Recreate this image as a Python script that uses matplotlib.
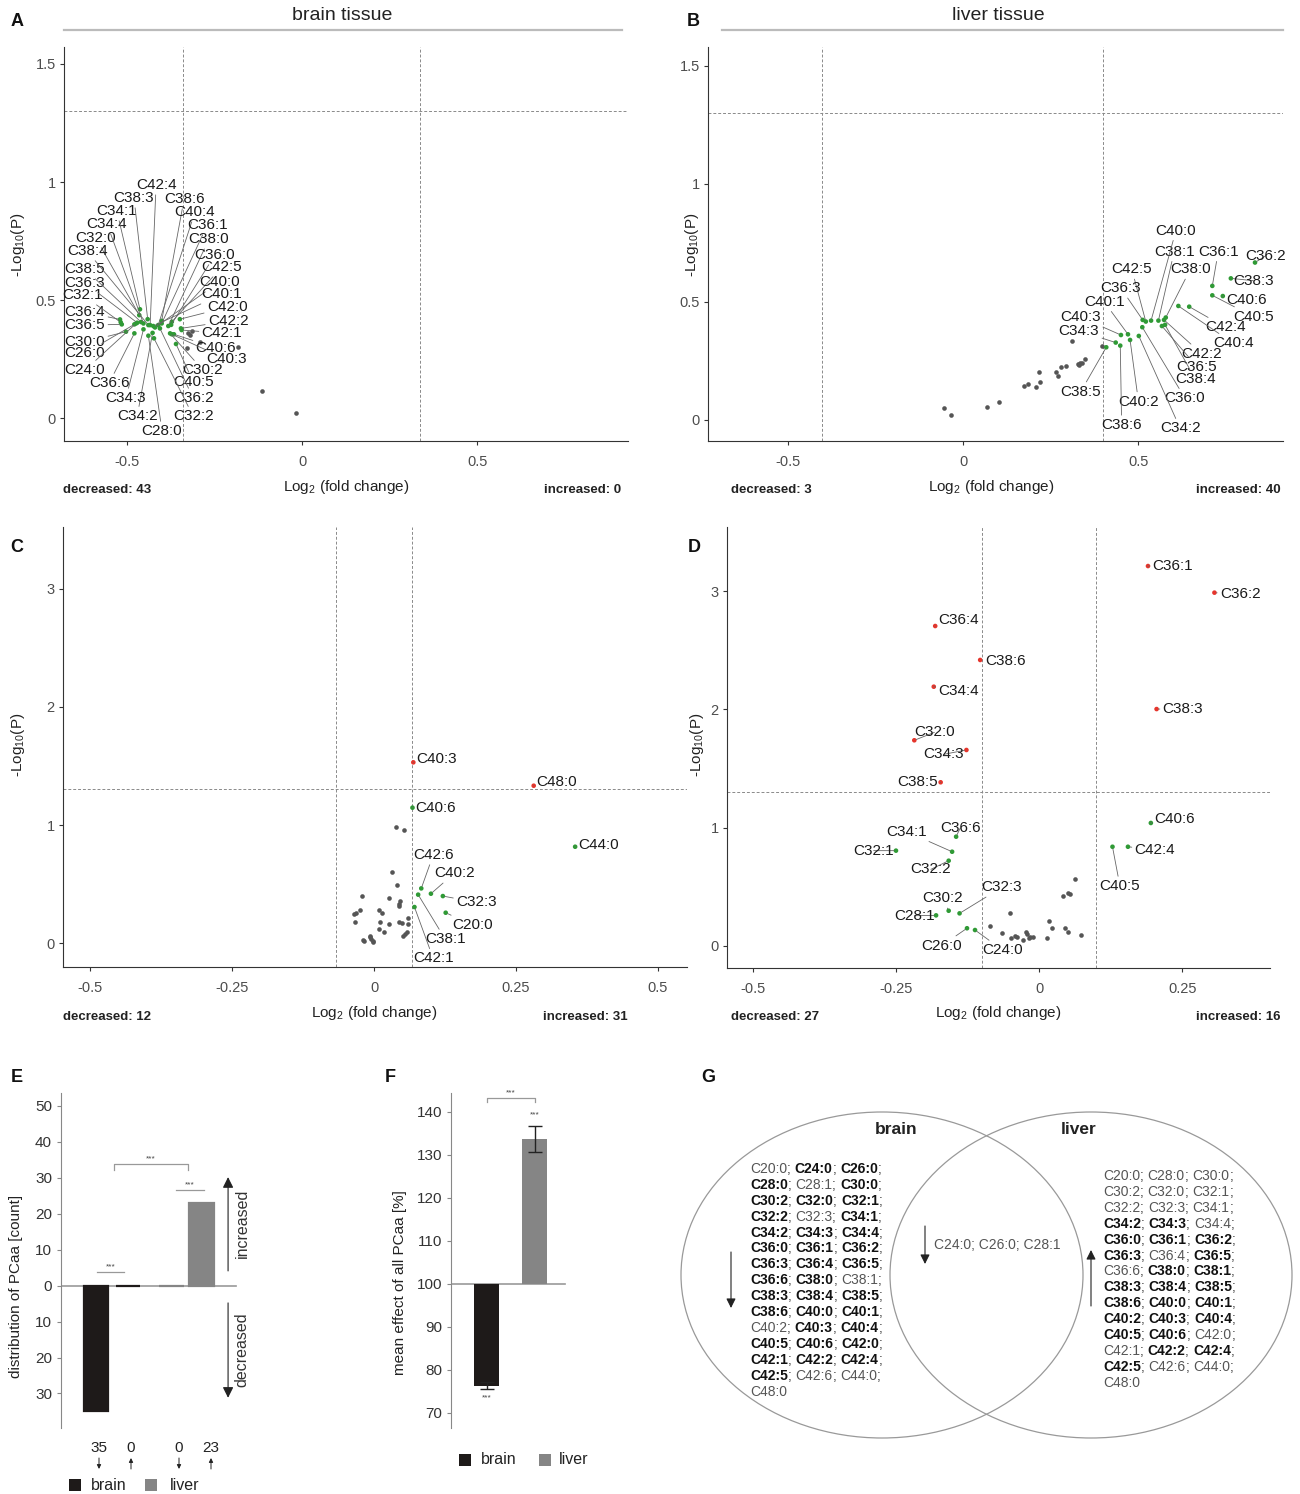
import matplotlib
matplotlib.use('Agg')
import matplotlib.pyplot as plt
from matplotlib.patches import Ellipse, Rectangle, FancyArrowPatch
from matplotlib.font_manager import FontProperties
from matplotlib.lines import Line2D

plt.rcParams['font.family'] = ['Liberation Sans', 'DejaVu Sans']
plt.rcParams['mathtext.fontset'] = 'custom'
plt.rcParams['mathtext.rm'] = 'Liberation Sans'
plt.rcParams['mathtext.it'] = 'Liberation Sans:italic'
plt.rcParams['mathtext.bf'] = 'Liberation Sans:bold'
plt.rcParams['axes.unicode_minus'] = False

# ------------------------------------------------------------------ data
# Panel A: brain tissue (significant = green, labelled)
a_names = ['C36:4', 'C36:5', 'C32:1', 'C30:0', 'C36:6', 'C26:0', 'C24:0', 'C36:3', 'C38:5',
           'C32:0', 'C34:4', 'C34:1', 'C38:3', 'C42:4', 'C38:6', 'C40:4', 'C36:1', 'C38:0',
           'C36:0', 'C42:5', 'C40:0', 'C40:1', 'C42:0', 'C42:2', 'C42:1', 'C40:6', 'C40:3',
           'C30:2', 'C40:5', 'C36:2', 'C32:2', 'C28:0', 'C34:2', 'C34:3', 'C38:4']
a_fc = [-0.520, -0.515, -0.518, -0.503, -0.479, -0.479, -0.474, -0.471, -0.460,
        -0.465, -0.453, -0.463, -0.441, -0.434, -0.401, -0.411, -0.401, -0.382,
        -0.374, -0.372, -0.420, -0.425, -0.349, -0.346, -0.344, -0.366, -0.372,
        -0.377, -0.360, -0.406, -0.423, -0.439, -0.427, -0.453, -0.439]
a_lp = [0.418, 0.397, 0.406, 0.366, 0.359, 0.397, 0.401, 0.404, 0.407,
        0.436, 0.401, 0.461, 0.419, 0.394, 0.412, 0.394, 0.401, 0.390,
        0.395, 0.408, 0.384, 0.390, 0.419, 0.380, 0.373, 0.355, 0.355,
        0.359, 0.314, 0.380, 0.338, 0.349, 0.361, 0.376, 0.394]
a_ns_fc = [-0.326, -0.320, -0.314, -0.291, -0.183, -0.329, -0.114, -0.017]
a_ns_lp = [0.360, 0.352, 0.369, 0.322, 0.300, 0.297, 0.114, 0.020]
a_counts = (43, 0)

# Panel B: liver tissue
b_names = ['C36:2', 'C38:3', 'C36:1', 'C40:5', 'C40:6', 'C42:4', 'C40:4', 'C38:1', 'C38:0',
           'C42:2', 'C36:5', 'C38:4', 'C40:0', 'C42:5', 'C36:3', 'C36:0', 'C34:2', 'C40:1',
           'C40:3', 'C40:2', 'C34:3', 'C38:6', 'C38:5']
b_fc = [0.834, 0.765, 0.712, 0.712, 0.742, 0.646, 0.615, 0.558, 0.579,
        0.574, 0.568, 0.577, 0.537, 0.522, 0.513, 0.512, 0.502, 0.471,
        0.451, 0.477, 0.436, 0.449, 0.409]
b_lp = [0.667, 0.600, 0.568, 0.528, 0.525, 0.480, 0.483, 0.421, 0.434,
        0.424, 0.398, 0.403, 0.421, 0.417, 0.424, 0.393, 0.356, 0.363,
        0.360, 0.339, 0.328, 0.315, 0.308]
b_ns_fc = [-0.056, -0.035, 0.069, 0.102, 0.174, 0.185, 0.209, 0.220, 0.218, 0.265,
           0.271, 0.280, 0.294, 0.311, 0.329, 0.334, 0.339, 0.347, 0.398, 0.332]
b_ns_lp = [0.050, 0.023, 0.054, 0.076, 0.144, 0.154, 0.138, 0.161, 0.205, 0.205,
           0.186, 0.223, 0.230, 0.333, 0.236, 0.243, 0.240, 0.258, 0.315, 0.233]
b_counts = (3, 40)

# Panel C
c_names = ['C40:3', 'C48:0', 'C40:6', 'C44:0', 'C42:6', 'C40:2', 'C38:1', 'C32:3', 'C20:0', 'C42:1']
c_fc = [0.069, 0.281, 0.0675, 0.354, 0.083, 0.100, 0.0775, 0.121, 0.126, 0.071]
c_lp = [1.531, 1.333, 1.147, 0.816, 0.463, 0.418, 0.410, 0.398, 0.257, 0.305]
c_cls = ['red', 'red', 'green', 'green', 'green', 'green', 'green', 'green', 'green', 'green']
c_ns_fc = [0.038, 0.053, 0.031, 0.040, -0.022, 0.027, 0.045, 0.044, 0.043, -0.036, -0.025,
           0.0093, 0.0135, -0.033, 0.0106, 0.026, 0.043, 0.049, 0.060, 0.059, 0.0093, 0.018,
           -0.007, -0.0053, -0.0023, -0.017, 0.050, 0.055, 0.058, -0.0012, -0.008, -0.019, -0.032]
c_ns_lp = [0.980, 0.958, 0.599, 0.489, 0.401, 0.381, 0.356, 0.333, 0.314, 0.249, 0.277,
           0.277, 0.252, 0.178, 0.181, 0.164, 0.181, 0.172, 0.209, 0.164, 0.116, 0.096,
           0.051, 0.031, 0.008, 0.014, 0.057, 0.079, 0.091, 0.017, 0.059, 0.025, 0.252]
c_counts = (12, 31)

# Panel D
d_names = ['C36:1', 'C36:2', 'C36:4', 'C38:6', 'C34:4', 'C38:3', 'C32:0', 'C34:3', 'C38:5',
           'C34:1', 'C36:6', 'C32:1', 'C32:2', 'C30:2', 'C32:3', 'C28:1', 'C26:0', 'C24:0',
           'C40:5', 'C42:4', 'C40:6']
d_fc = [0.190, 0.306, -0.1815, -0.103, -0.184, 0.205, -0.218, -0.127, -0.172,
        -0.152, -0.145, -0.250, -0.158, -0.158, -0.139, -0.180, -0.126, -0.112,
        0.128, 0.155, 0.195]
d_lp = [3.212, 2.987, 2.705, 2.418, 2.192, 2.003, 1.739, 1.657, 1.384,
        0.797, 0.924, 0.806, 0.721, 0.298, 0.276, 0.259, 0.150, 0.135,
        0.839, 0.839, 1.040]
d_cls = ['red'] * 9 + ['green'] * 12
d_ns_fc = [-0.0867, -0.065, -0.0506, -0.0494, -0.0419, -0.039, -0.0285, -0.0227, -0.0204,
           -0.0186, -0.0157, -0.0116, 0.0145, 0.0163, 0.0227, 0.0413, 0.050, 0.054, 0.0628,
           0.0454, 0.050, 0.0738]
d_ns_lp = [0.172, 0.113, 0.276, 0.070, 0.085, 0.079, 0.051, 0.121, 0.101, 0.065, 0.073,
           0.079, 0.065, 0.214, 0.150, 0.425, 0.451, 0.440, 0.569, 0.150, 0.116, 0.096]
d_counts = (27, 16)

# Panel E: distribution of PCaa counts
e_tissue = ['brain', 'brain', 'liver', 'liver']
e_direction = ['down', 'up', 'down', 'up']
e_counts = [35, 0, 0, 23]

# Panel F: mean effect of all PCaa [%]
f_tissue = ['brain', 'liver']
f_mean = [76.3, 133.7]
f_err = [0.8, 3.1]

# Panel G: Venn lists
venn_brain = ['C20:0', 'C24:0', 'C26:0', 'C28:0', 'C28:1', 'C30:0', 'C30:2', 'C32:0', 'C32:1',
              'C32:2', 'C32:3', 'C34:1', 'C34:2', 'C34:3', 'C34:4', 'C36:0', 'C36:1', 'C36:2',
              'C36:3', 'C36:4', 'C36:5', 'C36:6', 'C38:0', 'C38:1', 'C38:3', 'C38:4', 'C38:5',
              'C38:6', 'C40:0', 'C40:1', 'C40:2', 'C40:3', 'C40:4', 'C40:5', 'C40:6', 'C42:0',
              'C42:1', 'C42:2', 'C42:4', 'C42:5', 'C42:6', 'C44:0', 'C48:0']
venn_brain_bold = set(a_names)
venn_liver = ['C20:0', 'C28:0', 'C30:0', 'C30:2', 'C32:0', 'C32:1', 'C32:2', 'C32:3', 'C34:1',
              'C34:2', 'C34:3', 'C34:4', 'C36:0', 'C36:1', 'C36:2', 'C36:3', 'C36:4', 'C36:5',
              'C36:6', 'C38:0', 'C38:1', 'C38:3', 'C38:4', 'C38:5', 'C38:6', 'C40:0', 'C40:1',
              'C40:2', 'C40:3', 'C40:4', 'C40:5', 'C40:6', 'C42:0', 'C42:1', 'C42:2', 'C42:4',
              'C42:5', 'C42:6', 'C44:0', 'C48:0']
venn_liver_bold = set(b_names)
venn_both = ['C24:0', 'C26:0', 'C28:1']

# ------------------------------------------------------------------ label placement
a_lab = {'C42:4': (-0.417, 0.987), 'C38:3': (-0.48, 0.932), 'C38:6': (-0.337, 0.928),
         'C34:1': (-0.529, 0.877), 'C40:4': (-0.306, 0.873), 'C34:4': (-0.557, 0.822),
         'C36:1': (-0.271, 0.818), 'C32:0': (-0.589, 0.763), 'C38:0': (-0.266, 0.758),
         'C38:4': (-0.614, 0.708), 'C36:0': (-0.249, 0.691), 'C38:5': (-0.62, 0.631),
         'C42:5': (-0.229, 0.640), 'C36:3': (-0.62, 0.572), 'C40:0': (-0.237, 0.576),
         'C32:1': (-0.626, 0.521), 'C40:1': (-0.229, 0.525), 'C36:4': (-0.62, 0.449),
         'C42:0': (-0.214, 0.470), 'C36:5': (-0.62, 0.394), 'C42:2': (-0.211, 0.411),
         'C30:0': (-0.62, 0.322), 'C42:1': (-0.229, 0.360), 'C26:0': (-0.62, 0.275),
         'C40:6': (-0.246, 0.297), 'C40:3': (-0.217, 0.250), 'C24:0': (-0.62, 0.203),
         'C30:2': (-0.283, 0.203), 'C36:6': (-0.551, 0.148), 'C40:5': (-0.311, 0.153),
         'C34:3': (-0.503, 0.085), 'C36:2': (-0.311, 0.085), 'C34:2': (-0.471, 0.008),
         'C32:2': (-0.311, 0.008), 'C28:0': (-0.40, -0.055)}
b_lab = {'C40:0': (0.608, 0.802), 'C38:1': (0.603, 0.713), 'C36:1': (0.729, 0.713),
         'C36:2': (0.865, 0.696), 'C42:5': (0.482, 0.638), 'C38:0': (0.649, 0.638),
         'C38:3': (0.829, 0.590), 'C36:3': (0.451, 0.558), 'C40:6': (0.81, 0.508),
         'C40:1': (0.403, 0.501), 'C40:5': (0.829, 0.438), 'C40:3': (0.336, 0.435),
         'C42:4': (0.749, 0.393), 'C34:3': (0.331, 0.378), 'C40:4': (0.772, 0.325),
         'C42:2': (0.682, 0.280), 'C36:5': (0.668, 0.226), 'C38:4': (0.663, 0.174),
         'C38:5': (0.336, 0.120), 'C40:2': (0.501, 0.078), 'C36:0': (0.634, 0.092),
         'C38:6': (0.453, -0.021), 'C34:2': (0.62, -0.035)}
c_lab = {'C40:3': (0.110, 1.559), 'C48:0': (0.322, 1.367), 'C40:6': (0.109, 1.147),
         'C44:0': (0.395, 0.831), 'C42:6': (0.104, 0.746), 'C40:2': (0.141, 0.591),
         'C32:3': (0.180, 0.345), 'C20:0': (0.173, 0.153), 'C38:1': (0.125, 0.034),
         'C42:1': (0.104, -0.130)}
d_lab = {'C36:1': (0.233, 3.212), 'C36:2': (0.351, 2.973), 'C36:4': (-0.141, 2.756),
         'C38:6': (-0.059, 2.412), 'C34:4': (-0.141, 2.158), 'C38:3': (0.251, 2.003),
         'C32:0': (-0.183, 1.806), 'C34:3': (-0.167, 1.62), 'C38:5': (-0.213, 1.384),
         'C34:1': (-0.231, 0.966), 'C36:6': (-0.138, 0.995), 'C32:1': (-0.289, 0.806),
         'C32:2': (-0.189, 0.648), 'C30:2': (-0.168, 0.403), 'C32:3': (-0.065, 0.496),
         'C28:1': (-0.218, 0.256), 'C26:0': (-0.170, 0.003), 'C24:0': (-0.064, -0.034),
         'C40:5': (0.141, 0.507), 'C42:4': (0.202, 0.812), 'C40:6': (0.237, 1.074)}

# ------------------------------------------------------------------ figure
W, H = 1300, 1494
fig = plt.figure(figsize=(W / 100, H / 100), dpi=100)
fig.patch.set_facecolor('white')

GREEN = '#2f9a35'
RED = '#e5352c'
GREY = '#555555'
CMAP = {'red': RED, 'green': GREEN}


def fx(x):
    return x / W


def fy(y):
    return 1 - y / H


def ax_px(l, t, r, b):
    return fig.add_axes([l / W, 1 - b / H, (r - l) / W, (b - t) / H])


def ftext(x, y, s, **kw):
    return fig.text(fx(x), fy(y), s, **kw)


def fline(xs, ys, **kw):
    fig.add_artist(Line2D([fx(v) for v in xs], [fy(v) for v in ys],
                          transform=fig.transFigure, **kw))


def farrow(x0, y0, x1, y1, ms=10, lw=0.8, color='#222'):
    fig.add_artist(FancyArrowPatch((fx(x0), fy(y0)), (fx(x1), fy(y1)),
                                   transform=fig.transFigure, arrowstyle='-|>',
                                   mutation_scale=ms, lw=lw, color=color,
                                   shrinkA=0, shrinkB=0))


def volcano(ax, names, fc, lp, cols, ns_fc, ns_lp, lab, xlim, ylim, xt, xtl, yt, ytl, vl, hl):
    ax.set_xlim(*xlim)
    ax.set_ylim(*ylim)
    for v in vl:
        ax.axvline(v, color='#8a8a8a', ls=(0, (3, 2)), lw=0.7, zorder=1)
    ax.axhline(hl, color='#8a8a8a', ls=(0, (3, 2)), lw=0.7, zorder=1)
    ax.scatter(ns_fc, ns_lp, s=11, color=GREY, lw=0, zorder=3)
    ax.scatter(fc, lp, s=11, c=cols, lw=0, zorder=4)
    for n, x, y in zip(names, fc, lp):
        lx, ly = lab[n]
        ax.annotate(n, xy=(x, y), xytext=(lx, ly), ha='center', va='center',
                    fontsize=11, color='#1a1a1a', annotation_clip=False, zorder=5,
                    arrowprops=dict(arrowstyle='-', color='#666666', lw=0.6,
                                    shrinkA=0, shrinkB=1.5))
    for s in ['top', 'right']:
        ax.spines[s].set_visible(False)
    for s in ['left', 'bottom']:
        ax.spines[s].set_color('#333333')
        ax.spines[s].set_linewidth(0.8)
    ax.set_xticks(xt)
    ax.set_xticklabels(xtl)
    ax.set_yticks(yt)
    ax.set_yticklabels(ytl)
    ax.tick_params(length=3, width=0.8, color='#333333', labelsize=10.5, labelcolor='#4d4d4d')
    ax.tick_params(axis='x', pad=7)
    ax.tick_params(axis='y', pad=3)
    ax.patch.set_alpha(0)


xlab = r'Log$_{2}$ (fold change)'
ylab = r'-Log$_{10}$(P)'

# ---- A
axA = ax_px(64, 47, 628, 441)
volcano(axA, a_names, a_fc, a_lp, [GREEN] * len(a_names), a_ns_fc, a_ns_lp, a_lab,
        (-0.68, 0.931), (-0.097, 1.572), [-0.5, 0, 0.5], ['-0.5', '0', '0.5'],
        [0, 0.5, 1, 1.5], ['0', '0.5', '1', '1.5'], [-0.34, 0.337], 1.301)
# ---- B
axB = ax_px(708, 47, 1283, 441)
volcano(axB, b_names, b_fc, b_lp, [GREEN] * len(b_names), b_ns_fc, b_ns_lp, b_lab,
        (-0.729, 0.914), (-0.089, 1.58), [-0.5, 0, 0.5], ['-0.5', '0', '0.5'],
        [0, 0.5, 1, 1.5], ['0', '0.5', '1', '1.5'], [-0.403, 0.40], 1.301)
# ---- C
axC = ax_px(63, 527, 687, 967)
volcano(axC, c_names, c_fc, c_lp, [CMAP[c] for c in c_cls], c_ns_fc, c_ns_lp, c_lab,
        (-0.548, 0.551), (-0.203, 3.525), [-0.5, -0.25, 0, 0.25, 0.5],
        ['-0.5', '-0.25', '0', '0.25', '0.5'], [0, 1, 2, 3], ['0', '1', '2', '3'],
        [-0.068, 0.067], 1.301)
# ---- D
axD = ax_px(727, 527, 1270, 968)
volcano(axD, d_names, d_fc, d_lp, [CMAP[c] for c in d_cls], d_ns_fc, d_ns_lp, d_lab,
        (-0.545, 0.403), (-0.186, 3.542), [-0.5, -0.25, 0, 0.25],
        ['-0.5', '-0.25', '0', '0.25'], [0, 1, 2, 3], ['0', '1', '2', '3'],
        [-0.0995, 0.0995], 1.301)

# titles, letters, axis labels, counts
ftext(342, 15, 'brain tissue', fontsize=14, color='#222', ha='center', va='center')
fline([64, 622], [30, 30], color='#bbbbbb', lw=1.6)
ftext(998, 15, 'liver tissue', fontsize=14, color='#222', ha='center', va='center')
fline([722, 1283], [30, 30], color='#bbbbbb', lw=1.6)

for letter, (x, y) in zip('ABCDEFG', [(17, 22), (693, 22), (17, 547), (694, 547),
                                      (17, 1078), (390, 1078), (708, 1078)]):
    ftext(x, y, letter, fontsize=13, fontweight='bold', color='#111', ha='center', va='center')

for (xc, yxl), (xy, yy), (l, r, yc), cnt in [((346, 487), (18, 245), (63, 621, 490), a_counts),
                                             ((991, 487), (692, 245), (731, 1281, 490), b_counts),
                                             ((374, 1013), (18, 745), (63, 628, 1017), c_counts),
                                             ((998, 1013), (697, 745), (731, 1281, 1017), d_counts)]:
    ftext(xc, yxl, xlab, fontsize=11, color='#222', ha='center', va='center')
    ftext(xy, yy, ylab, fontsize=11, color='#222', ha='center', va='center', rotation=90)
    ftext(l, yc, 'decreased: %d' % cnt[0], fontsize=9.5, fontweight='bold', color='#222',
          ha='left', va='center')
    ftext(r, yc, 'increased: %d' % cnt[1], fontsize=9.5, fontweight='bold', color='#222',
          ha='right', va='center')

# ------------------------------------------------------------------ E
BLACK = '#1e1a19'
GRAY = '#858585'
TCOL = {'brain': BLACK, 'liver': GRAY}
axE = ax_px(61, 1093, 250, 1428)
e_pos = [0, 1, 2.35, 3.3]
e_vals = [-c if d == 'down' else c for c, d in zip(e_counts, e_direction)]
axE.bar(e_pos, e_vals, width=0.77, color=[TCOL[t] for t in e_tissue],
        edgecolor=[TCOL[t] for t in e_tissue], linewidth=1.6, zorder=3)
axE.set_xlim(-1.094, 4.81)
axE.set_ylim(-39.6, 53.6)
axE.axhline(0, xmin=0, xmax=0.926, color='#999999', lw=1.2, zorder=2)
e_ticks = [50, 40, 30, 20, 10, 0, -10, -20, -30]
axE.set_yticks(e_ticks)
axE.set_yticklabels([str(abs(t)) for t in e_ticks])
axE.set_xticks([])
for s in ['top', 'right', 'bottom']:
    axE.spines[s].set_visible(False)
axE.spines['left'].set_color('#888888')
axE.tick_params(axis='y', length=3, color='#888888', labelsize=11, labelcolor='#333')
axE.patch.set_alpha(0)
# significance brackets
axE.plot([0.03, 0.875], [3.8, 3.8], color='#999', lw=0.9, clip_on=False)
axE.text(0.45, 5.3, '***', fontsize=6, ha='center', va='center', color='#444')
axE.plot([0.56, 0.56, 2.875, 2.875], [32.2, 33.9, 33.9, 32.2], color='#999', lw=0.9, clip_on=False)
axE.text(1.72, 35.4, '***', fontsize=6, ha='center', va='center', color='#444')
axE.plot([2.5, 3.375], [26.6, 26.6], color='#999', lw=0.9, clip_on=False)
axE.text(2.94, 28.1, '***', fontsize=6, ha='center', va='center', color='#444')
axE.annotate('', xy=(4.125, 30.2), xytext=(4.125, 4.1), annotation_clip=False,
             arrowprops=dict(arrowstyle='-|>', color='#222', lw=0.8, mutation_scale=16,
                             shrinkA=0, shrinkB=0))
axE.annotate('', xy=(4.125, -31.2), xytext=(4.125, -4.8), annotation_clip=False,
             arrowprops=dict(arrowstyle='-|>', color='#222', lw=0.8, mutation_scale=16,
                             shrinkA=0, shrinkB=0))
axE.text(4.56, 17.4, 'increased', rotation=90, fontsize=11.5, color='#333',
         ha='center', va='center', clip_on=False)
axE.text(4.56, -17.9, 'decreased', rotation=90, fontsize=11.5, color='#333',
         ha='center', va='center', clip_on=False)
ftext(16, 1286, 'distribution of PCaa [count]', rotation=90, fontsize=11, color='#222',
      ha='center', va='center')
for xpix, c, d in zip([99, 131, 179, 211], e_counts, e_direction):
    ftext(xpix, 1448, str(c), fontsize=11, color='#222', ha='center', va='center')
    if d == 'down':
        farrow(xpix, 1458, xpix, 1469, ms=6, lw=0.7)
    else:
        farrow(xpix, 1469, xpix, 1458, ms=6, lw=0.7)


def legend_px(items):
    for (sq, tx, y, label, col) in items:
        fig.add_artist(Rectangle((fx(sq - 6), fy(y + 6)), 12 / W, 12 / H,
                                 transform=fig.transFigure, color=col, lw=0))
        ftext(tx, y, label, fontsize=11.5, color='#222', ha='left', va='center')


legend_px([(75, 91, 1485, 'brain', BLACK), (151, 170, 1485, 'liver', GRAY)])

# ------------------------------------------------------------------ F
axF = ax_px(451, 1093, 572, 1428)
f_pos = [0, 1]
axF.bar(f_pos, [m - 100 for m in f_mean], bottom=100, width=0.52,
        color=[TCOL[t] for t in f_tissue], zorder=3)
axF.errorbar(f_pos, f_mean, yerr=f_err, fmt='none', ecolor='#222', elinewidth=1,
             capsize=5, capthick=1, zorder=4)
axF.set_xlim(-0.74, 1.78)
axF.set_ylim(66.5, 144.4)
axF.axhline(100, xmin=0, xmax=0.945, color='#999999', lw=1.2, zorder=2)
axF.set_yticks([70, 80, 90, 100, 110, 120, 130, 140])
axF.set_xticks([])
for s in ['top', 'right', 'bottom']:
    axF.spines[s].set_visible(False)
axF.spines['left'].set_color('#888888')
axF.tick_params(axis='y', length=3, color='#888888', labelsize=11, labelcolor='#333')
axF.patch.set_alpha(0)
axF.text(1, 139.4, '***', fontsize=6, ha='center', va='center', color='#444')
axF.text(0, 73.4, '***', fontsize=6, ha='center', va='center', color='#444')
axF.plot([0, 0, 1, 1], [142.4, 143.3, 143.3, 142.4], color='#999', lw=0.9, clip_on=False)
axF.text(0.5, 144.5, '***', fontsize=6, ha='center', va='center', color='#444', clip_on=False)
ftext(400, 1283, 'mean effect of all PCaa [%]', rotation=90, fontsize=11, color='#222',
      ha='center', va='center')
legend_px([(465, 481, 1460, 'brain', BLACK), (545, 559, 1460, 'liver', GRAY)])

# ------------------------------------------------------------------ G
axG = ax_px(680, 1075, 1300, 1445)
axG.set_xlim(680, 1300)
axG.set_ylim(1445, 1075)
axG.axis('off')
axG.add_patch(Ellipse((882, 1275), 402, 326, fill=False, ec='#999999', lw=0.9))
axG.add_patch(Ellipse((1091, 1275), 402, 326, fill=False, ec='#999999', lw=0.9))
ftext(896, 1129, 'brain', fontsize=12.5, fontweight='bold', color='#222', ha='center', va='center')
ftext(1079, 1129, 'liver', fontsize=12.5, fontweight='bold', color='#222', ha='center', va='center')
farrow(731, 1252, 731, 1308, ms=14, lw=0.8)
farrow(925, 1226, 925, 1264, ms=14, lw=0.8)
farrow(1091, 1306, 1091, 1250, ms=14, lw=0.8)
ftext(934, 1245, '; '.join(venn_both), fontsize=10, color='#555', ha='left', va='center')

renderer = fig.canvas.get_renderer()
prop_n = FontProperties(family='Liberation Sans', size=10)
prop_b = FontProperties(family='Liberation Sans', size=10, weight='bold')


def tw(s, prop):
    a = renderer.get_text_width_height_descent('|' + s + '|', prop, ismath=False)[0]
    b = renderer.get_text_width_height_descent('||', prop, ismath=False)[0]
    return a - b


def rich_block(x0, y0, names, bold_set, per_line=3, dy=15.9):
    for i in range(0, len(names), per_line):
        chunk = names[i:i + per_line]
        x = x0
        y = y0 + (i // per_line) * dy
        for j, n in enumerate(chunk):
            isb = n in bold_set
            p = prop_b if isb else prop_n
            ftext(x, y, n, fontproperties=p, color='#111' if isb else '#555',
                  ha='left', va='center')
            x += tw(n, p)
            if i + j + 1 < len(names):
                sep = ';' if j == len(chunk) - 1 else '; '
                ftext(x, y, sep, fontproperties=prop_n, color='#444', ha='left', va='center')
                x += tw(sep, prop_n)


rich_block(750, 1169, venn_brain, venn_brain_bold)
rich_block(1103, 1176, venn_liver, venn_liver_bold)

fig.savefig('out.png', dpi=100, facecolor='white')
